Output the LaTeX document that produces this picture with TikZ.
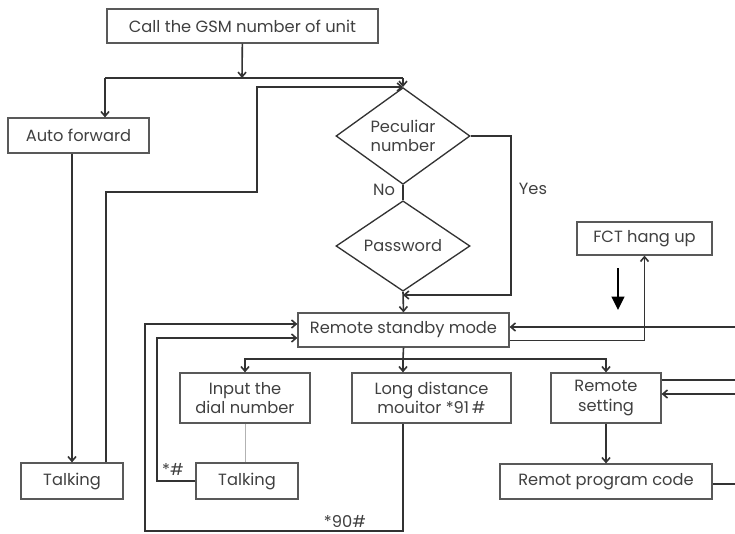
\documentclass[tikz,border=0pt]{standalone}
\usepackage{fontspec}
\setmainfont{Poppins}
\usetikzlibrary{arrows.meta,shapes.geometric}

\tikzset{
  box/.style={draw=black!65, line width=0.9pt, text=black!75, align=center, inner sep=0pt, font=\fontsize{12.2}{14.5}\selectfont},
  choice/.style={diamond, draw=black!80, line width=1pt, text=black!75, align=center, inner sep=0pt, font=\fontsize{12.2}{14.5}\selectfont, minimum width={134*0.75pt}, minimum height={78*0.75pt}},
  flow/.style={draw=black!80, line width=1.2pt},
  arr/.style={flow, -{Straight Barb[length=3.5pt,width=6pt]}},
  bigarr/.style={draw=black, line width=1.5pt, -{Triangle[length=10pt,width=9.5pt]}},
  lbl/.style={text=black!75, inner sep=0pt, font=\fontsize{12.2}{14.5}\selectfont}
}

\begin{document}
\begin{tikzpicture}[x=0.75pt,y=0.75pt,yscale=-1,xscale=1]
\useasboundingbox (0,0) rectangle (735,533);

% Boxes
\node[box, minimum width={271*0.75pt}, minimum height={34*0.75pt}] (gsm) at (242.5,26) {Call the GSM number of unit};
\node[box, minimum width={141*0.75pt}, minimum height={35*0.75pt}] (autofwd) at (78.5,135.5) {Auto forward};
\node[box, minimum width={102*0.75pt}, minimum height={36*0.75pt}] (talk1) at (72,481) {Talking};
\node[choice] (peculiar) at (403,136) {Peculiar\\number};
\node[choice] (password) at (403,246) {Password};
\node[box, minimum width={211*0.75pt}, minimum height={34*0.75pt}] (standby) at (403.5,330) {Remote standby mode};
\node[box, minimum width={135*0.75pt}, minimum height={33*0.75pt}] (fct) at (644.5,238.5) {FCT hang up};
\node[box, minimum width={130*0.75pt}, minimum height={50*0.75pt}] (input) at (245,398) {Input the\\dial number};
\node[box, minimum width={159*0.75pt}, minimum height={50*0.75pt}] (longd) at (431.5,398) {Long distance\\mouitor *91\,\#};
\node[box, minimum width={110*0.75pt}, minimum height={50*0.75pt}] (rset) at (606,398) {Remote\\setting};
\node[box, minimum width={102*0.75pt}, minimum height={36*0.75pt}] (talk2) at (247,481) {Talking};
\node[box, minimum width={212*0.75pt}, minimum height={35*0.75pt}] (rcode) at (606,481.5) {Remot program code};

% Labels
\node[lbl] (no) at (384,190) {No};
\node[lbl] (yes) at (533,189) {Yes};
\node[lbl] (star) at (173,469) {*\#};
\node[lbl] (ninety) at (345,521) {*90\#};

% Helper points
\coordinate (j1) at (242,78);
\coordinate (bl) at (105,78);
\coordinate (br) at (403,78);
\coordinate (c1) at (106,192);
\coordinate (c2) at (257,192);
\coordinate (yc) at (511,295);
\coordinate (m1) at (403,295);
\coordinate (j2) at (403,359);
\coordinate (b1) at (403,531);
\coordinate (b2) at (145,324);
\coordinate (d1) at (157,338);
\coordinate (r1) at (735,327);
\coordinate (r2) at (735,380);
\coordinate (r3) at (735,394);
\coordinate (r4) at (735,484);
\coordinate (h1) at (618,268);
\coordinate (h2) at (618,310);

% Top part
\draw[arr] (gsm) -- (j1);
\draw[flow] (bl) -- (br);
\draw[arr] (bl) -- (bl |- autofwd.north);
\draw[arr] (br) -- (peculiar.north);
\draw[arr] (talk1.north |- autofwd.south) -- (talk1.north);
\draw[arr] (c1 |- talk1.north) -- (c1) -- (c2) |- (peculiar.north);
\draw[flow] (peculiar.south) -- (password.north);
\draw[arr] (password.south) -- (standby.north);
\draw[arr] (peculiar.east) -| (yc) -- (m1);

% Standby mode
\draw[arr] ([yshift=8pt]standby.east) -| (fct.south);
\draw[arr] (r1) -- (r1 -| standby.east);
\draw[bigarr] (h1) -- (h2);
\draw[flow] (standby.south) -- (j2);
\draw[arr] (j2) -| (input.north);
\draw[arr] (j2) -- (j2 |- longd.north);
\draw[arr] (j2) -| (rset.north);

% Lower part
\draw[black!30, line width=0.6pt] (input.south) -- (input.south |- talk2.north);
\draw[arr] (talk2.west) -| (d1) -- (d1 -| standby.west);
\draw[arr] (b1 |- longd.south) -- (b1) -| (b2) -- (b2 -| standby.west);
\draw[arr] (rset.south) -- (rcode.north);
\draw[flow] (r2 -| rset.east) -- (r2);
\draw[arr] (r3) -- (r3 -| rset.east);
\draw[flow] (r4 -| rcode.east) -- (r4);

\end{tikzpicture}
\end{document}
